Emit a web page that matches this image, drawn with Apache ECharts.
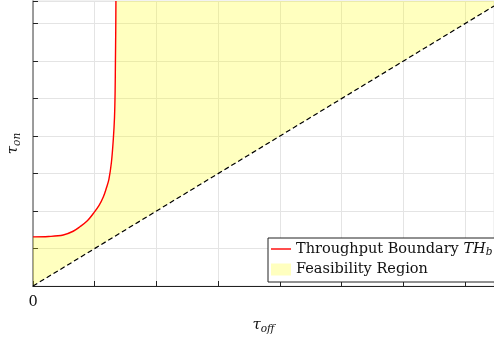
<!DOCTYPE html>
<html>
<head>
<meta charset="utf-8">
<script src="https://cdn.jsdelivr.net/npm/echarts@6/dist/echarts.min.js"></script>
<style>
  html, body { margin: 0; padding: 0; background: #fff; }
  #chart { width: 494px; height: 338px; }
</style>
</head>
<body>
<div id="chart"></div>
<script>
// throughput boundary curve (tau_off, tau_on)
var curveX = [0, 0.25, 0.49, 0.65, 0.76, 0.88, 0.98, 1.07, 1.14, 1.19, 1.23, 1.27, 1.30, 1.32, 1.33, 1.335, 1.34, 1.343];
var curveY = [1.31, 1.32, 1.36, 1.46, 1.58, 1.74, 1.94, 2.15, 2.38, 2.62, 2.85, 3.3, 3.9, 4.5, 5.2, 6.0, 6.8, 7.6];
// dashed diagonal tau_on = tau_off
var diagX = [0, 7.466];
var diagY = [0, 7.466];
var xMax = 7.466;
var yMax = 7.6;
var xTicks = [0];  // only labelled tick

var font = 'DejaVu Serif';

// feasibility region outline: along the curve, across the top, back down the diagonal
function regionPoints() {
    var pts = curveX.map(function(x, i) { return [x, curveY[i]]; });
    pts.push([xMax, yMax]);
    for (var i = diagX.length - 1; i >= 0; i--) {
        pts.push([diagX[i], diagY[i]]);
    }
    return pts;
}

var chart = echarts.init(document.getElementById('chart'));

var option = {
    backgroundColor: '#fff',
    animation: false,
    grid: {
        left: 33, right: 0, top: 1, bottom: 52,
        outerBoundsMode: 'none',
        containLabel: false,
        show: true, borderColor: '#e4e4e4', borderWidth: 1,
        backgroundColor: 'transparent'
    },
    legend: {
        orient: 'vertical',
        left: 268, top: 238,
        padding: [2, 12, 5, 3],
        itemWidth: 20, itemHeight: 12, itemGap: 4,
        backgroundColor: '#fff',
        borderColor: '#222', borderWidth: 1, borderRadius: 0,
        data: [
            { name: 'Throughput Boundary', icon: 'path://M0,0h20v1.4h-20z', itemStyle: { color: '#ff0000' } },
            { name: 'Feasibility Region', icon: 'rect', itemStyle: { color: '#ffffbf' } }
        ],
        formatter: function(name) {
            if (name == 'Throughput Boundary') {
                return '{n|Throughput Boundary }{i|TH}{s|b}';
            }
            return '{n|' + name + '}';
        },
        textStyle: {
            fontFamily: font, fontSize: 14.5, color: '#111', lineHeight: 14,
            rich: {
                n: { fontFamily: font, fontSize: 14.5, color: '#111', lineHeight: 14 },
                i: { fontFamily: font, fontSize: 14.5, fontStyle: 'italic', color: '#111', lineHeight: 14 },
                s: { fontFamily: font, fontSize: 10.5, fontStyle: 'italic', color: '#111', lineHeight: 18, verticalAlign: 'bottom' }
            }
        }
    },
    xAxis: {
        type: 'value',
        min: 0, max: xMax, interval: 1,
        name: '{t|τ}{s|off}',
        nameLocation: 'middle',
        nameGap: 29,
        nameTextStyle: {
            rich: {
                t: { fontFamily: font, fontSize: 15, fontStyle: 'italic', color: '#111' },
                s: { fontFamily: font, fontSize: 10.5, fontStyle: 'italic', color: '#111', verticalAlign: 'bottom', lineHeight: 20 }
            }
        },
        axisLine: { show: true, lineStyle: { color: '#222', width: 1 } },
        axisTick: { show: true, inside: true, length: 5, lineStyle: { color: '#222' } },
        axisLabel: {
            fontFamily: font, fontSize: 14.5, color: '#111', margin: 9,
            formatter: function(v) { return xTicks.indexOf(v) >= 0 ? String(v) : ''; }
        },
        splitLine: { show: true, lineStyle: { color: '#e4e4e4', width: 1 } }
    },
    yAxis: {
        type: 'value',
        min: 0, max: yMax, interval: 1,
        name: '{t|τ}{s|on}',
        nameLocation: 'middle',
        nameRotate: 90,
        nameGap: 10,
        nameTextStyle: {
            rich: {
                t: { fontFamily: font, fontSize: 15, fontStyle: 'italic', color: '#111' },
                s: { fontFamily: font, fontSize: 10.5, fontStyle: 'italic', color: '#111', verticalAlign: 'bottom', lineHeight: 20 }
            }
        },
        axisLine: { show: true, lineStyle: { color: '#808080', width: 1.5 } },
        axisTick: { show: true, inside: true, length: 5, lineStyle: { color: '#222' } },
        axisLabel: { show: false },
        splitLine: { show: true, lineStyle: { color: '#e4e4e4', width: 1 } }
    },
    series: [
        {
            name: 'Feasibility Region',
            type: 'custom',
            color: '#ffffbf',
            data: [[0, 0]],
            renderItem: function(params, api) {
                var pts = regionPoints().map(function(p) { return api.coord(p); });
                return {
                    type: 'polygon',
                    shape: { points: pts, smooth: 0 },
                    style: { fill: 'rgba(255,255,0,0.25)' }
                };
            },
            silent: true,
            z: 1
        },
        {
            name: 'diagonal',
            type: 'line',
            data: diagX.map(function(x, i) { return [x, diagY[i]]; }),
            showSymbol: false,
            symbol: 'none',
            lineStyle: { color: '#000', width: 1.2, type: [5, 3] },
            z: 3
        },
        {
            name: 'Throughput Boundary',
            type: 'line',
            data: curveX.map(function(x, i) { return [x, curveY[i]]; }),
            showSymbol: false,
            symbol: 'none',
            smooth: 0.35,
            color: '#ff0000',
            lineStyle: { color: '#ff0000', width: 1.4 },
            z: 4
        }
    ]
};

chart.setOption(option);

window.addEventListener('resize', function() {
    chart.resize();
});
</script>
</body>
</html>
